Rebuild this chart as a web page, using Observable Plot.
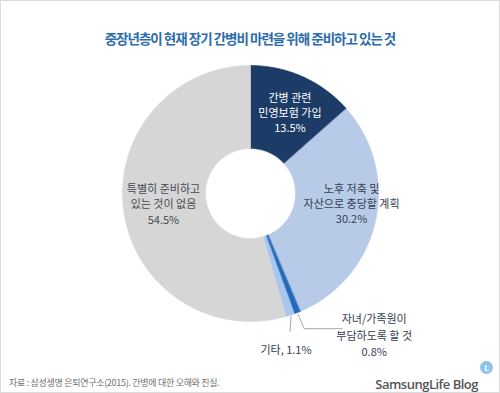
<!DOCTYPE html>
<html>
<head>
<meta charset="utf-8">
<script src="https://cdn.jsdelivr.net/npm/d3@7"></script>
<script src="https://cdn.jsdelivr.net/npm/@observablehq/plot@0.6"></script>
<style>
  body { margin: 0; background: #fff; }
  #wrap { position: relative; width: 500px; height: 393px; overflow: hidden; background: #fff; font-family: 'Noto Sans CJK KR', sans-serif; }
  #chart { position: absolute; left: 0; top: 0; }
  .title { position: absolute; left: 0; width: 500px; top: 29px; text-align: center; font-size: 13.5px; font-weight: bold; line-height: 18px; color: #2b6cab; letter-spacing: -1px; }
  .source { position: absolute; left: 9px; top: 376px; font-size: 9px; line-height: 14px; color: #707070; letter-spacing: -0.3px; }
  .brand { position: absolute; right: 22px; top: 375px; font-family: 'Open Sans', sans-serif; font-size: 13px; font-weight: 600; line-height: 18px; color: #555; letter-spacing: -0.5px; }
  .icon { position: absolute; left: 480px; top: 361px; width: 13px; height: 13px; border-radius: 50%; background: #8cc4ea; color: #fff; font: bold 8px/13px 'Open Sans', sans-serif; text-align: center; }
  .border { position: absolute; left: 0; top: 0; width: 500px; height: 393px; box-sizing: border-box; border: 1px solid #dcdcdc; pointer-events: none; }
</style>
</head>
<body>
<div id="wrap">
  <div id="chart"></div>
  <div class="title">중장년층이 현재 장기 간병비 마련을 위해 준비하고 있는 것</div>
  <div class="source">자료 : 삼성생명 은퇴연구소(2015). 간병에 대한 오해와 진실.</div>
  <div class="brand">SamsungLife Blog</div>
  <div class="icon">L</div>
  <div class="border"></div>
</div>
<script>
// ---- data ----
const categories = ["간병 관련 민영보험 가입", "노후 저축 및 자산으로 충당할 계획", "자녀/가족원이 부담하도록 할 것", "기타", "특별히 준비하고 있는 것이 없음"];
const values = [13.5, 30.2, 0.8, 1.1, 54.5];
const labelTexts = ["간병 관련\n민영보험 가입\n13.5%", "노후 저축 및\n자산으로 충당할 계획\n30.2%", "자녀/가족원이\n부담하도록 할 것\n0.8%", "기타, 1.1%", "특별히 준비하고\n있는 것이 없음\n54.5%"];
const colors = ["#1c3b66", "#b7cbe8", "#2469bb", "#a9c7ec", "#d6d6d6"];

// ---- geometry ----
const W = 500, H = 393;
const cx = 250, cy = 193, R = 128; // pixel center and outer radius
const inner = 45 / R;              // inner radius in units
const px = 1 / R;                  // one pixel in units

const arcs = d3.pie().sort(null).value(d => d)(values);

function slicePoints(a, i) {
  const pts = [];
  const n = Math.max(4, Math.ceil((a.endAngle - a.startAngle) / 0.01));
  for (let k = 0; k <= n; k++) {
    const t = a.startAngle + (a.endAngle - a.startAngle) * k / n;
    pts.push({i, x: Math.sin(t), y: Math.cos(t)});
  }
  for (let k = n; k >= 0; k--) {
    const t = a.startAngle + (a.endAngle - a.startAngle) * k / n;
    pts.push({i, x: inner * Math.sin(t), y: inner * Math.cos(t)});
  }
  return pts;
}

const mid = a => (a.startAngle + a.endAngle) / 2;
const at = (a, r) => ({x: r * Math.sin(mid(a)), y: r * Math.cos(mid(a))});

const sliceMarks = arcs.map((a, i) =>
  Plot.line(slicePoints(a, i), {x: "x", y: "y", curve: "linear-closed", fill: colors[i], stroke: colors[i], strokeWidth: 0.6})
);

// inside labels (centroid-based) with per-label nudges
const font = "'Noto Sans CJK KR', sans-serif";
const inside = [
  {i: 0, fill: "#ffffff", dx: 1, dy: 4},
  {i: 1, fill: "#34404f", dx: 10, dy: -11},
  {i: 4, fill: "#454a52", dx: 5.5, dy: -3}
];
const insideMarks = inside.map(o => {
  const p = at(arcs[o.i], 0.73);
  return Plot.text([{x: p.x, y: p.y, t: labelTexts[o.i]}], {
    x: "x", y: "y", text: "t", fill: o.fill, fontSize: 11, lineHeight: 1.38,
    dx: o.dx, dy: o.dy, fontFamily: font
  });
});

// small slices: leader lines from the outer edge + callout labels
const p2 = at(arcs[2], 1);
const p3 = at(arcs[3], 1);
const leader2 = [
  {x: p2.x + 1 * px, y: p2.y - 2 * px},
  {x: p2.x + 7 * px, y: p2.y - 16 * px},
  {x: p2.x + 45 * px, y: p2.y - 16 * px}
];
const leader3 = [
  {x: p3.x + 1 * px, y: p3.y - 1 * px},
  {x: p3.x + 0 * px, y: p3.y - 16 * px}
];

const calloutMarks = [
  Plot.line(leader2, {x: "x", y: "y", stroke: "#8a8f96", strokeWidth: 0.8}),
  Plot.line(leader3, {x: "x", y: "y", stroke: "#8a8f96", strokeWidth: 0.8}),
  Plot.text([{x: p2.x, y: p2.y, t: labelTexts[2]}], {
    x: "x", y: "y", text: "t", fill: "#34404f", fontSize: 11, lineHeight: 1.5, dx: 77, dy: 22, fontFamily: font
  }),
  Plot.text([{x: p3.x, y: p3.y, t: labelTexts[3]}], {
    x: "x", y: "y", text: "t", fill: "#34404f", fontSize: 11, dx: -4, dy: 35, fontFamily: font
  })
];

const chart = Plot.plot({
  width: W,
  height: H,
  margin: 0,
  x: {domain: [-cx / R, (W - cx) / R], axis: null},
  y: {domain: [-(H - cy) / R, cy / R], axis: null},
  style: {background: "transparent", fontFamily: font},
  marks: [...sliceMarks, ...insideMarks, ...calloutMarks]
});
document.getElementById("chart").appendChild(chart);
</script>
</body>
</html>
